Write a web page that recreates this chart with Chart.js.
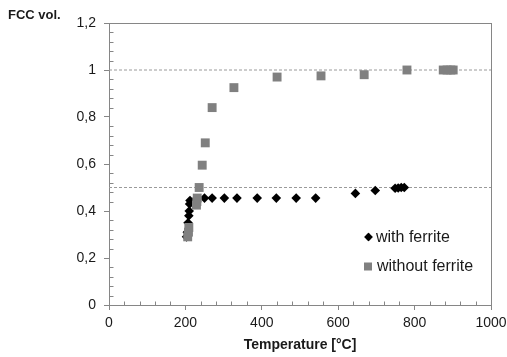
<!DOCTYPE html>
<html><head><meta charset="utf-8">
<script src="https://cdn.jsdelivr.net/npm/chart.js@4/dist/chart.umd.min.js"></script>
<style>html,body{margin:0;padding:0;background:#fff}#wrap{width:507px;height:357px;position:relative}</style>
</head><body><div id="wrap"><canvas id="c" width="507" height="357"></canvas></div>
<script>
// ---- data ----
const withFerriteT = [203, 205, 207, 209, 210, 211, 212, 228, 250, 270, 302, 335, 388, 438, 490, 541, 645, 697, 749, 757, 765, 773];
const withFerriteV = [0.29, 0.31, 0.35, 0.38, 0.40, 0.43, 0.445, 0.45, 0.455, 0.455, 0.455, 0.455, 0.455, 0.455, 0.455, 0.455, 0.475, 0.487, 0.497, 0.498, 0.50, 0.50];
const withoutFerriteT = [206, 208, 209, 229, 230, 231, 236, 244, 252, 270, 327, 440, 555, 668, 780, 875, 885, 895, 901];
const withoutFerriteV = [0.29, 0.31, 0.33, 0.425, 0.44, 0.455, 0.50, 0.595, 0.69, 0.84, 0.925, 0.97, 0.975, 0.98, 1.0, 1.0, 1.0, 1.0, 1.0];
const refLevels = [1, 0.5];
const seriesNames = ['with ferrite', 'without ferrite'];
const xTickValues = [0, 200, 400, 600, 800, 1000];
const xTickLabels = ['0', '200', '400', '600', '800', '1000'];
const yTickValues = [0, 0.2, 0.4, 0.6, 0.8, 1, 1.2];
const yTickLabels = ['0', '0,2', '0,4', '0,6', '0,8', '1', '1,2'];
const xTitle = 'Temperature [°C]';
const yTitle = 'FCC vol.';

const FONT = '"Liberation Sans", Arial, sans-serif';
const AXIS = '#868686';
const TXT = '#1a1a1a';

const toPts = (xs, ys) => xs.map((x, i) => ({x: x, y: ys[i]}));

const datasets = [
  {label: seriesNames[1], data: toPts(withoutFerriteT, withoutFerriteV), showLine: false,
   pointStyle: 'rect', pointRadius: 6.3, pointHoverRadius: 6.3, pointBackgroundColor: '#808080',
   pointBorderWidth: 0, borderColor: '#808080', order: 0},
  {label: seriesNames[0], data: toPts(withFerriteT, withFerriteV), showLine: false,
   pointStyle: 'rectRot', pointRadius: 4.8, pointHoverRadius: 4.8, pointBackgroundColor: '#000',
   pointBorderWidth: 0, borderColor: '#000', order: 1}
];
refLevels.forEach(v => datasets.push({
  label: 'ref', data: [{x: xTickValues[0], y: v}, {x: xTickValues[xTickValues.length - 1], y: v}],
  showLine: true, pointRadius: 0, borderColor: '#9a9a9a', borderWidth: 1, borderDash: [3, 2], order: 2
}));

const decor = {
  id: 'decor',
  beforeDatasetsDraw(chart) {
    const {ctx, chartArea: a, scales: {x, y}} = chart;
    ctx.save();
    ctx.strokeStyle = AXIS; ctx.lineWidth = 1;
    ctx.beginPath();
    for (let v = 0; v <= 1000; v += 40) {
      if (v % 200 === 0) continue;
      const px = Math.round(x.getPixelForValue(v)) + 0.5;
      ctx.moveTo(px, Math.round(a.bottom) + 0.5); ctx.lineTo(px, Math.round(a.bottom) - 3.5);
    }
    for (let i = 1; i < 30; i++) {
      if (i % 5 === 0) continue;
      const py = Math.round(y.getPixelForValue(i * 0.04)) + 0.5;
      ctx.moveTo(Math.round(a.left) + 0.5, py); ctx.lineTo(Math.round(a.left) + 4.5, py);
    }
    ctx.stroke();
    ctx.strokeRect(Math.round(a.left) + 0.5, Math.round(a.top) + 0.5, Math.round(a.right - a.left), Math.round(a.bottom - a.top));
    ctx.restore();
  },
  afterDraw(chart) {
    const {ctx} = chart;
    ctx.save();
    ctx.fillStyle = TXT;
    ctx.font = 'bold 13px ' + FONT;
    ctx.textBaseline = 'middle';
    ctx.textAlign = 'left';
    ctx.fillText(yTitle, 8, 15);
    // legend
    ctx.font = '16px ' + FONT;
    ctx.fillStyle = '#000';
    Chart.helpers.drawPoint(ctx, {pointStyle: 'rectRot', radius: 4.2, borderWidth: 0}, 368.5, 237);
    ctx.fill();
    ctx.fillStyle = '#808080';
    ctx.fillRect(364, 262.5, 8, 8);
    ctx.fillStyle = TXT;
    ctx.fillText(seriesNames[0], 376, 238);
    ctx.fillText(seriesNames[1], 377, 267);
    ctx.restore();
  }
};

new Chart(document.getElementById('c'), {
  type: 'scatter',
  data: {datasets},
  options: {
    responsive: false, animation: false, devicePixelRatio: 1,
    layout: {padding: {left: 0, top: 23, right: 16, bottom: 0}},
    plugins: {legend: {display: false}, tooltip: {enabled: false}},
    scales: {
      x: {
        type: 'linear', min: 0, max: 1000,
        afterFit(s) { s.height = 52; s.paddingLeft = 0; s.paddingRight = 0; },
        afterBuildTicks(s) { s.ticks = xTickValues.map(v => ({value: v})); },
        ticks: {callback: (v) => xTickLabels[xTickValues.indexOf(v)], color: TXT, font: {family: FONT, size: 14}, padding: 5, maxRotation: 0},
        grid: {drawOnChartArea: false, drawTicks: true, tickLength: 5, color: AXIS},
        border: {color: AXIS},
        title: {display: true, text: xTitle, color: TXT, font: {family: FONT, size: 14, weight: 'bold'}, padding: {top: 0, bottom: 3}}
      },
      y: {
        type: 'linear', min: 0, max: 1.2,
        afterFit(s) { s.width = 109; s.paddingTop = 0; s.paddingBottom = 0; },
        afterBuildTicks(s) { s.ticks = yTickValues.map(v => ({value: v})); },
        ticks: {callback: (v) => yTickLabels[yTickValues.findIndex(t => Math.abs(t - v) < 1e-9)], color: TXT, font: {family: FONT, size: 14}, padding: 8},
        grid: {drawOnChartArea: false, drawTicks: true, tickLength: 5, color: AXIS},
        border: {color: AXIS}
      }
    }
  },
  plugins: [decor]
});
</script>
</body></html>
